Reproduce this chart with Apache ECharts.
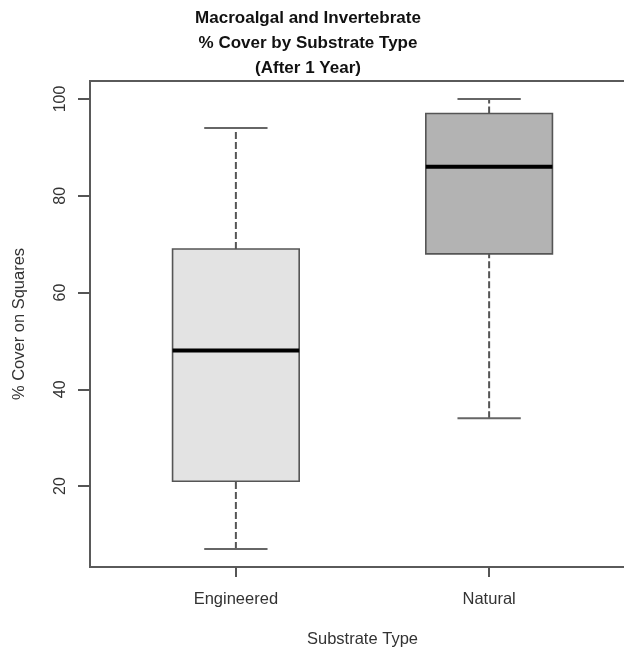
<!DOCTYPE html>
<html>
<head>
<meta charset="utf-8">
<script src="https://cdn.jsdelivr.net/npm/echarts@6/dist/echarts.min.js"></script>
<style>
html,body{margin:0;padding:0;background:#fff;}
#chart{width:624px;height:651px;}
</style>
</head>
<body>
<div id="chart"></div>
<script>
// Data
const categories = ['Engineered', 'Natural'];
const whiskerLow = [7, 34];
const q1 = [21, 68];
const median = [48, 86];
const q3 = [69, 97];
const whiskerHigh = [94, 100];
const yTicks = [20, 40, 60, 80, 100];
const xTicks = [1, 2];

const fills = ['#e3e3e3', '#b3b3b3'];
const FONT = '"Liberation Sans", Arial, sans-serif';

const seriesData = categories.map((c, i) => [i + 1, whiskerLow[i], q1[i], median[i], q3[i], whiskerHigh[i]]);

const chart = echarts.init(document.getElementById('chart'), null, {renderer: 'canvas'});

function renderItem(params, api) {
  const x = api.value(0);
  const halfBox = 0.25, halfCap = 0.125;
  const pLow = api.coord([x, api.value(1)]);
  const pQ1 = api.coord([x, api.value(2)]);
  const pMed = api.coord([x, api.value(3)]);
  const pQ3 = api.coord([x, api.value(4)]);
  const pHigh = api.coord([x, api.value(5)]);
  const left = api.coord([x - halfBox, 0])[0];
  const right = api.coord([x + halfBox, 0])[0];
  const cl = api.coord([x - halfCap, 0])[0];
  const cr = api.coord([x + halfCap, 0])[0];
  const lineCol = '#555';
  const dashStyle = {stroke: lineCol, lineWidth: 2, lineDash: [7, 3]};
  const solid = {stroke: '#666', lineWidth: 2};
  return {
    type: 'group',
    children: [
      {type: 'line', shape: {x1: pQ3[0], y1: pQ3[1], x2: pHigh[0], y2: pHigh[1]}, style: dashStyle},
      {type: 'line', shape: {x1: pLow[0], y1: pLow[1], x2: pQ1[0], y2: pQ1[1]}, style: dashStyle},
      {type: 'line', shape: {x1: cl, y1: pHigh[1], x2: cr, y2: pHigh[1]}, style: solid},
      {type: 'line', shape: {x1: cl, y1: pLow[1], x2: cr, y2: pLow[1]}, style: solid},
      {type: 'rect', shape: {x: left, y: pQ3[1], width: right - left, height: pQ1[1] - pQ3[1]},
        style: {fill: fills[params.dataIndex], stroke: lineCol, lineWidth: 1.6}},
      {type: 'line', shape: {x1: left, y1: pMed[1], x2: right, y2: pMed[1]}, style: {stroke: '#000', lineWidth: 4}}
    ]
  };
}

const option = {
  animation: false,
  backgroundColor: '#fff',
  title: {
    text: 'Macroalgal and Invertebrate\n% Cover by Substrate Type\n(After 1 Year)',
    left: 303,
    textAlign: 'center',
    top: 1,
    textStyle: {fontFamily: FONT, fontSize: 17, fontWeight: 'bold', color: '#111', lineHeight: 25}
  },
  grid: {
    left: 90, top: 81, width: 545, height: 486,
    outerBoundsMode: 'none',
    containLabel: false,
    show: true, borderColor: '#5a5a5a', borderWidth: 2, backgroundColor: 'transparent'
  },
  xAxis: {
    type: 'value',
    min: 0.424, max: 2.576,
    name: 'Substrate Type',
    nameLocation: 'middle',
    nameGap: 64,
    nameTextStyle: {fontFamily: FONT, fontSize: 16.5, color: '#333'},
    splitLine: {show: false},
    axisLine: {show: false},
    axisTick: {show: true, length: 10, customValues: xTicks, lineStyle: {color: '#555', width: 2}},
    axisLabel: {
      customValues: xTicks,
      margin: 24,
      fontFamily: FONT, fontSize: 16.5, color: '#333',
      formatter: v => categories[Math.round(v) - 1] || ''
    }
  },
  yAxis: {
    type: 'value',
    min: 3.28, max: 103.72,
    name: '% Cover on Squares',
    nameLocation: 'middle',
    nameGap: 62,
    nameTextStyle: {fontFamily: FONT, fontSize: 16.5, color: '#333'},
    splitLine: {show: false},
    axisLine: {show: false},
    axisTick: {show: true, length: 12, customValues: yTicks, lineStyle: {color: '#555', width: 2}},
    axisLabel: {
      customValues: yTicks,
      rotate: 90,
      margin: 21,
      fontFamily: FONT, fontSize: 16, color: '#333'
    }
  },
  series: [{
    type: 'custom',
    renderItem: renderItem,
    encode: {x: 0, y: [1, 2, 3, 4, 5]},
    data: seriesData,
    clip: false
  }]
};
chart.setOption(option);
</script>
</body>
</html>
